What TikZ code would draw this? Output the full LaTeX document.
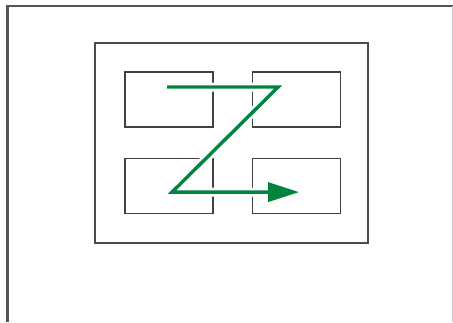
\documentclass[tikz,border=0pt]{standalone}
\usetikzlibrary{arrows.meta, positioning}
\definecolor{zgreen}{RGB}{0,133,62}
\definecolor{framegray}{RGB}{85,85,85}

\begin{document}
\begin{tikzpicture}[x=1pt, y=-1pt,
    cell/.style={draw=black!75, line width=1.1pt, minimum width=88pt, minimum height=55pt, inner sep=0pt},
    zpath/.style={zgreen, line width=3.4pt}]
  \useasboundingbox (0,0) rectangle (453,322);
  % page edge
  \draw[framegray, line width=2.6pt] (7.5,322) -- (7.5,6) -- (453,6);
  \draw[black!20, line width=1pt] (452,6) -- (452,322);
  % panel
  \node[draw=black!70, line width=1.1pt, minimum width=273pt, minimum height=200pt, inner sep=0pt]
    (panel) at (231.5,143) {};
  \node[cell] (tl) at (169,99.5) {};
  \node[cell, right=38pt of tl] (tr) {};
  \node[cell, below=30pt of tl] (bl) {};
  \node[cell, right=38pt of bl] (br) {};
  % Z order
  \coordinate (zs) at ([shift={(-2,-12.5)}]tl.center);
  \coordinate (za) at ([shift={(-18,-12.5)}]tr.center);
  \coordinate (zb) at ([shift={(3,6.5)}]bl.center);
  \coordinate (ze) at ([shift={(3,6.5)}]br.center);
  \draw[white, line width=9pt] (zs) -- (za) -- (zb) -- (ze);
  \draw[zpath, -{Triangle[length=31pt, width=19pt]}] (zs) -- (za) -- (zb) -- (ze);
\end{tikzpicture}
\end{document}
